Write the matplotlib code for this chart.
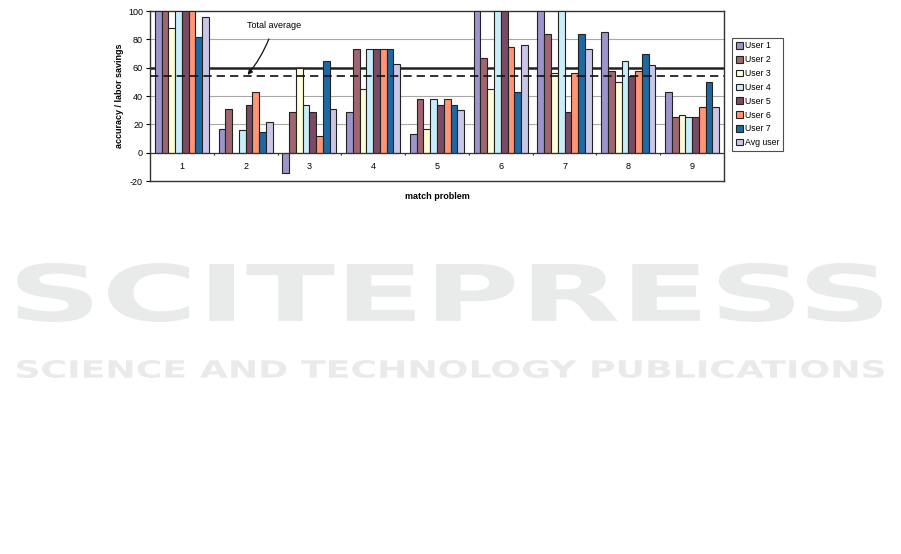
import numpy as np
import matplotlib
matplotlib.use("Agg")
import matplotlib.pyplot as plt
from matplotlib.textpath import TextPath
from matplotlib.patches import PathPatch
from matplotlib.font_manager import FontProperties
from matplotlib.transforms import Affine2D, IdentityTransform

plt.rcParams["font.family"] = ["Liberation Sans", "DejaVu Sans"]
plt.rcParams["axes.unicode_minus"] = False

problems = ["1", "2", "3", "4", "5", "6", "7", "8", "9"]
users = ["User 1", "User 2", "User 3", "User 4", "User 5", "User 6", "User 7", "Avg user"]
colors = ["#9C95CB", "#A0666F", "#FFFED9", "#C9EEFA", "#7B4A63", "#FF9574", "#1F69A3", "#CAC6E6"]

# values per user, one entry per match problem
user1 = [100, 17, -14, 29, 13, 100, 100, 85, 43]
user2 = [100, 31, 29, 73, 38, 67, 84, 58, 25]
user3 = [88, 0, 60, 45, 17, 45, 56, 50, 27]
user4 = [100, 16, 34, 73, 38, 100, 100, 65, 25]
user5 = [100, 34, 29, 73, 34, 100, 29, 54, 25]
user6 = [100, 43, 12, 73, 38, 75, 56, 58, 32]
user7 = [82, 15, 65, 73, 34, 43, 84, 70, 50]
avg_user = [96, 22, 31, 63, 30, 76, 73, 62, 32]
series = [user1, user2, user3, user4, user5, user6, user7, avg_user]

target_line = 60
total_average = 54

fig = plt.figure(figsize=(9.01, 5.54), dpi=100)
ax = fig.add_axes([0.1665, 0.673, 0.637, 0.307])

x = np.arange(1, len(problems) + 1)
w = 0.106
for i, (vals, c, name) in enumerate(zip(series, colors, users)):
    ax.bar(x + (i - 3.5) * w, vals, w, color=c, edgecolor="#222222", linewidth=0.8,
           label=name, zorder=3)

# reference lines
ax.axhline(target_line, color="#222222", lw=1.8, zorder=2)
ax.axhline(total_average, color="#111111", lw=1.2, ls=(0, (5, 3)), zorder=4)
ax.axhline(0, color="#333333", lw=0.9, zorder=4)

ax.set_xlim(0.5, len(problems) + 0.5)
ax.set_ylim(-20, 100)
ax.set_yticks([-20, 0, 20, 40, 60, 80, 100])
ax.tick_params(axis="y", labelsize=6.5, length=3, width=0.8, pad=2)
ax.set_xticks([])
for xi, lab in zip(x, problems):
    ax.text(xi, -10, lab, ha="center", va="center", fontsize=6.5)
ax.vlines(x[:-1] + 0.5, -1.6, 0, color="#333333", lw=0.8, zorder=4)

for yv in [20, 40, 80]:
    ax.axhline(yv, color="#A8A8A8", lw=0.8, zorder=1)

for s in ax.spines.values():
    s.set_color("#333333")
    s.set_linewidth(1.0)

ax.set_ylabel("accuracy / labor savings", fontsize=6.5, fontweight="bold", labelpad=3)
ax.set_xlabel("match problem", fontsize=6.5, fontweight="bold", labelpad=8)

ax.annotate("Total average", xy=(2.03, 55), xytext=(2.44, 90), fontsize=6.5,
            ha="center", va="center", zorder=5,
            arrowprops=dict(arrowstyle="-|>", color="#111111", lw=0.9,
                            mutation_scale=7, shrinkA=5, shrinkB=0,
                            connectionstyle="arc3,rad=-0.1"))

leg = fig.legend(loc="upper left", bbox_to_anchor=(732 / 901, 1 - 38 / 554),
                 fontsize=6.3, frameon=True, fancybox=False, handlelength=0.8,
                 handleheight=0.8, handletextpad=0.3, labelspacing=0.55,
                 borderpad=0.4, borderaxespad=0)
leg.get_frame().set_edgecolor("#222222")
leg.get_frame().set_linewidth(0.8)


# publisher watermark under the chart
def watermark(text, x0, x1, y0, y1):
    fp = FontProperties(family="DejaVu Sans", weight="bold")
    path = TextPath((0, 0), text, size=50, prop=fp)
    ext = path.get_extents()
    tr = (Affine2D().translate(-ext.x0, -ext.y0)
          .scale((x1 - x0) / ext.width, (y1 - y0) / ext.height)
          .translate(x0, 554 - y1))
    fig.add_artist(PathPatch(tr.transform_path(path), facecolor="#E9EAEA",
                             edgecolor="none", transform=IdentityTransform(), zorder=0))


watermark("SCITEPRESS", 17, 882, 263, 322)
watermark("SCIENCE AND TECHNOLOGY PUBLICATIONS", 17, 884, 360, 378)

fig.savefig("out.png", dpi=100)
